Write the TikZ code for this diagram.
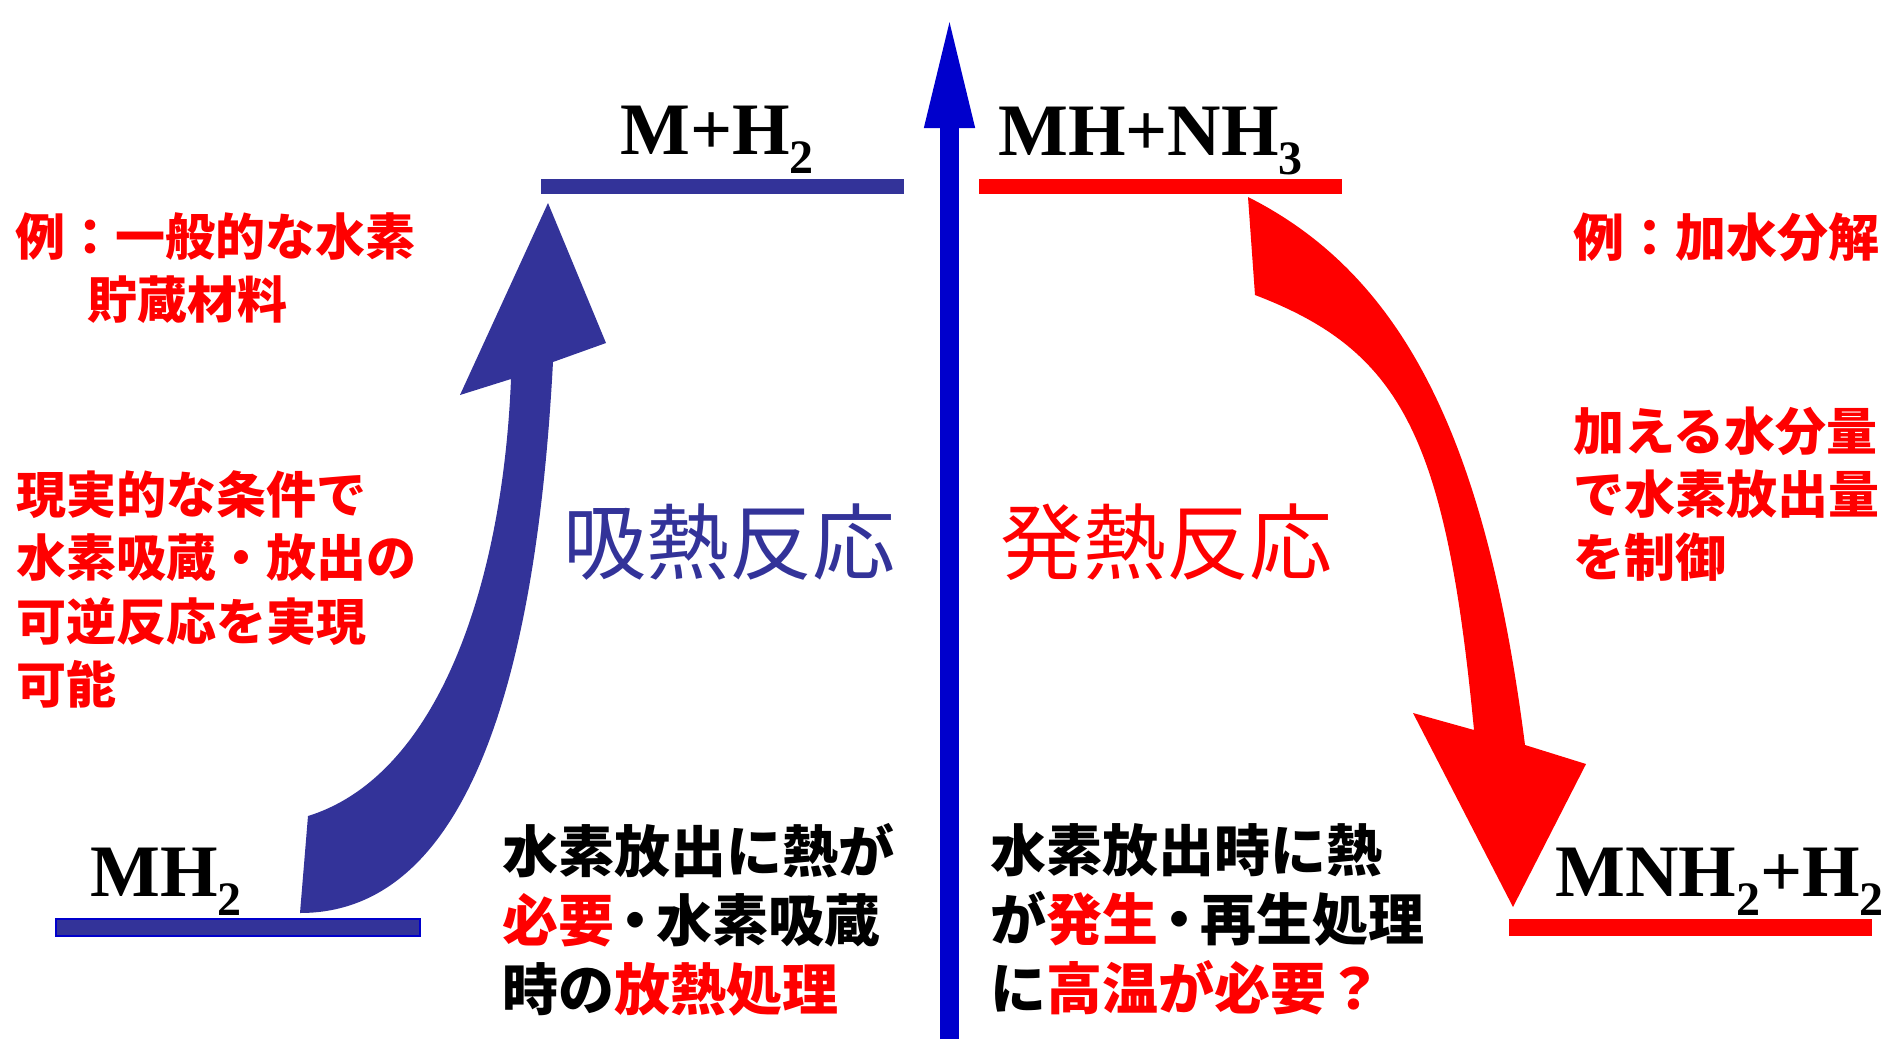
\documentclass[tikz,border=0pt]{standalone}
\usepackage{fontspec}
\setmainfont{Liberation Serif}
\newfontfamily\jp{Noto Sans CJK JP}
\usetikzlibrary{arrows.meta}
\definecolor{band}{HTML}{333399}
\definecolor{axisblue}{HTML}{0000CC}
\definecolor{hot}{HTML}{FF0000}
\newcommand\fsz[2]{\fontsize{#1bp}{#2bp}\selectfont}
\newcommand\lowidx[1]{\raisebox{-19bp}{\fsz{48}{48}\bfseries #1}}
\newcommand\ndot{\makebox[0.75em]{・}}
\tikzset{
  lvbar/.style={rectangle, inner sep=0, outer sep=0, minimum width=363bp, minimum height=15bp},
  chem/.style={inner sep=0, anchor=base west, font=\fsz{74}{74}\bfseries},
  note/.style={inner sep=0, anchor=north west, align=left, text=hot, font=\jp\bfseries\fsz{50}{63.5}},
  bignote/.style={inner sep=0, anchor=north west, font=\jp\fsz{83}{83}},
  btxt/.style={inner sep=0, anchor=north west, align=left, text=black, font=\jp\bfseries\fsz{56}{69}},
}
\begin{document}
\begin{tikzpicture}[x=1bp,y=-1bp]
\useasboundingbox (0,0) rectangle (1892,1039);

% energy axis
\coordinate (axbot) at (949.5,1039);
\coordinate (axtop) at (949.5,13);
\draw[axisblue, line width=19bp, -{Triangle[width=45bp,length=115bp]}] (axbot) -- (axtop);

% levels
\node[lvbar, fill=band, draw=axisblue, line width=1.5bp, minimum width=364bp, minimum height=17bp] (bMH2) at (238,927.5) {};
\node[lvbar, fill=band] (bMH2top) at (722.5,186.5) {};
\node[lvbar, fill=hot] (bMHNH3) at (1160.5,186.5) {};
\node[lvbar, fill=hot, minimum height=17bp] (bMNH2) at (1690.5,927.5) {};

% formulas
\node[chem] (tMH2) at (90,896) {MH\lowidx{2}};
\node[chem] (tMH2top) at (620,154) {M+H\lowidx{2}};
\node[chem] (tMHNH3) at (998,155) {MH+NH\lowidx{3}};
\node[chem] (tMNH2) at (1555,896) {MNH\lowidx{2}+H\lowidx{2}};

% endothermic curved block arrow
\fill[band] (548,203) -- (606,343) -- (553,362)
  .. controls (535,700) and (460,913) .. (300,913)
  -- (308,816)
  .. controls (440,775) and (503,580) .. (511,379)
  -- (460,395) -- cycle;

% exothermic curved block arrow
\fill[hot] (1248,197)
  .. controls (1403,275) and (1486,439) .. (1525,745)
  -- (1586,764) -- (1513,907) -- (1413,713) -- (1474,730)
  .. controls (1446,438) and (1402,351) .. (1255,295)
  -- cycle;

% labels
\node[note] (ex1) at (15,212) {例：一般的な水素\\\hspace*{1.45em}貯蔵材料};
\node[note] (rev) at (16,470) {現実的な条件で\\水素吸蔵・放出の\\可逆反応を実現\\可能};
\node[note, font=\jp\bfseries\fsz{51}{63}] (ex2) at (1573,213) {例：加水分解};
\node[note, font=\jp\bfseries\fsz{51}{63}] (ctl) at (1573,407) {加える水分量\\で水素放出量\\を制御};

\node[bignote, text=band] (endo) at (563,504) {吸熱反応};
\node[bignote, text=hot] (exo) at (1000,504) {発熱反応};

\node[btxt] (bl) at (502,823) {水素放出に熱が\\\textcolor{hot}{必要}\ndot 水素吸蔵\\時の\textcolor{hot}{放熱処理}};
\node[btxt] (br) at (990,823) {水素放出時に熱\\が\textcolor{hot}{発生}\ndot 再生処理\\に\textcolor{hot}{高温が必要？}};
\end{tikzpicture}
\end{document}
